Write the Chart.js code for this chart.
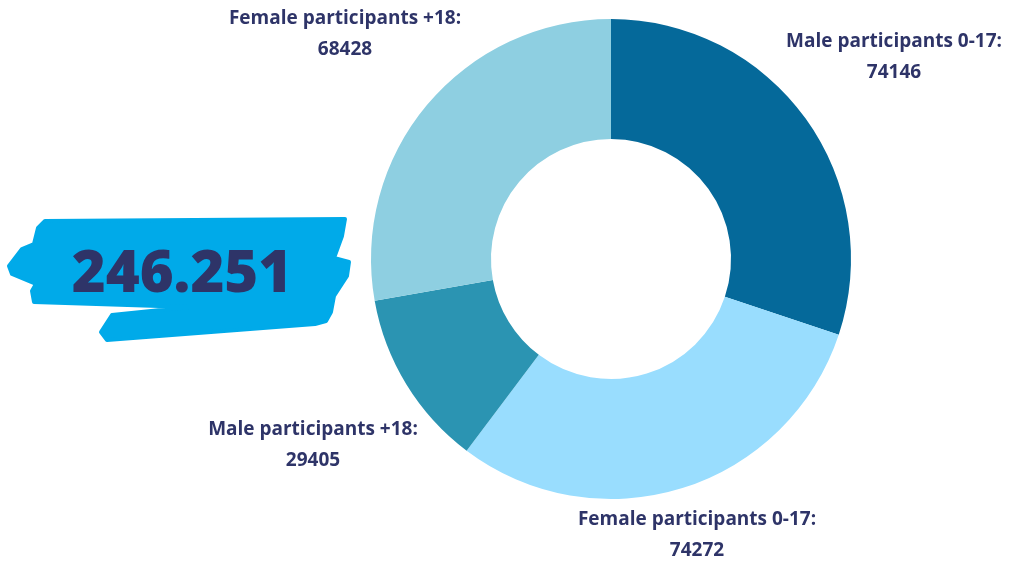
<!DOCTYPE html>
<html>
<head>
<meta charset="utf-8">
<script src="https://cdn.jsdelivr.net/npm/chart.js@4"></script>
<style>
    html, body {margin: 0; padding: 0; background: #fff;}
    #wrap {width: 1011px; height: 561px; position: relative;}
</style>
</head>
<body>
<div id="wrap"><canvas id="myChart" width="1011" height="561"></canvas></div>
<script>
const categories = ['Male participants 0-17', 'Female participants 0-17', 'Male participants +18', 'Female participants +18'];
const participants = [74146, 74272, 29405, 68428];
const totalLabel = '246.251';

const colors = ['#05699a', '#99ddfe', '#2b94b2', '#8ecfe1'];
// label anchor (centre x, first line y) for each slice
const labelPos = [[894, 42], [697, 520], [313, 430], [345, 19]];
const navy = '#2e3468';

// blue brush stroke behind the total
const brush = {
    id: 'brush',
    beforeDraw(chart) {
        const c = chart.ctx;
        const pts = [[45, 221], [345, 219], [342, 236], [334, 258], [349, 262], [347, 276], [334, 296], [331, 312],
            [326, 321], [315, 324], [107, 340], [101, 332], [112, 315], [190, 307], [34, 302], [32, 291], [36, 284],
            [12, 274], [9, 266], [22, 249], [34, 244], [38, 228]];
        c.save();
        c.fillStyle = '#00aae9';
        c.strokeStyle = '#00aae9';
        c.lineJoin = 'round';
        c.lineWidth = 4;
        c.beginPath();
        pts.forEach(function (p, i) {
            if (i === 0) c.moveTo(p[0], p[1]); else c.lineTo(p[0], p[1]);
        });
        c.closePath();
        c.fill();
        c.stroke();
        c.fillStyle = navy;
        c.font = '800 58px "Open Sans"';
        c.textAlign = 'center';
        c.textBaseline = 'alphabetic';
        c.fillText(totalLabel, 182, 292);
        c.restore();
    }
};

const sliceLabels = {
    id: 'sliceLabels',
    afterDraw(chart) {
        const c = chart.ctx;
        c.save();
        c.fillStyle = navy;
        c.font = 'bold 19px "Open Sans"';
        c.textAlign = 'center';
        c.textBaseline = 'middle';
        chart.data.labels.forEach(function (lab, i) {
            const p = labelPos[i];
            c.fillText(lab + ':', p[0], p[1]);
            c.fillText(String(chart.data.datasets[0].data[i]), p[0], p[1] + 31);
        });
        c.restore();
    }
};

const ctx = document.getElementById('myChart');
let myChart = new Chart(ctx, {
    type: 'doughnut',
    plugins: [brush, sliceLabels],
    data: {
        labels: categories,
        datasets: [{
            data: participants,
            backgroundColor: colors,
            borderWidth: 0
        }]
    },
    options: {
        responsive: false,
        animation: false,
        cutout: '50%',
        layout: {padding: {left: 371, right: 160, top: 19, bottom: 62}},
        plugins: {legend: {display: false}, tooltip: {enabled: false}}
    }
});
</script>
</body>
</html>
